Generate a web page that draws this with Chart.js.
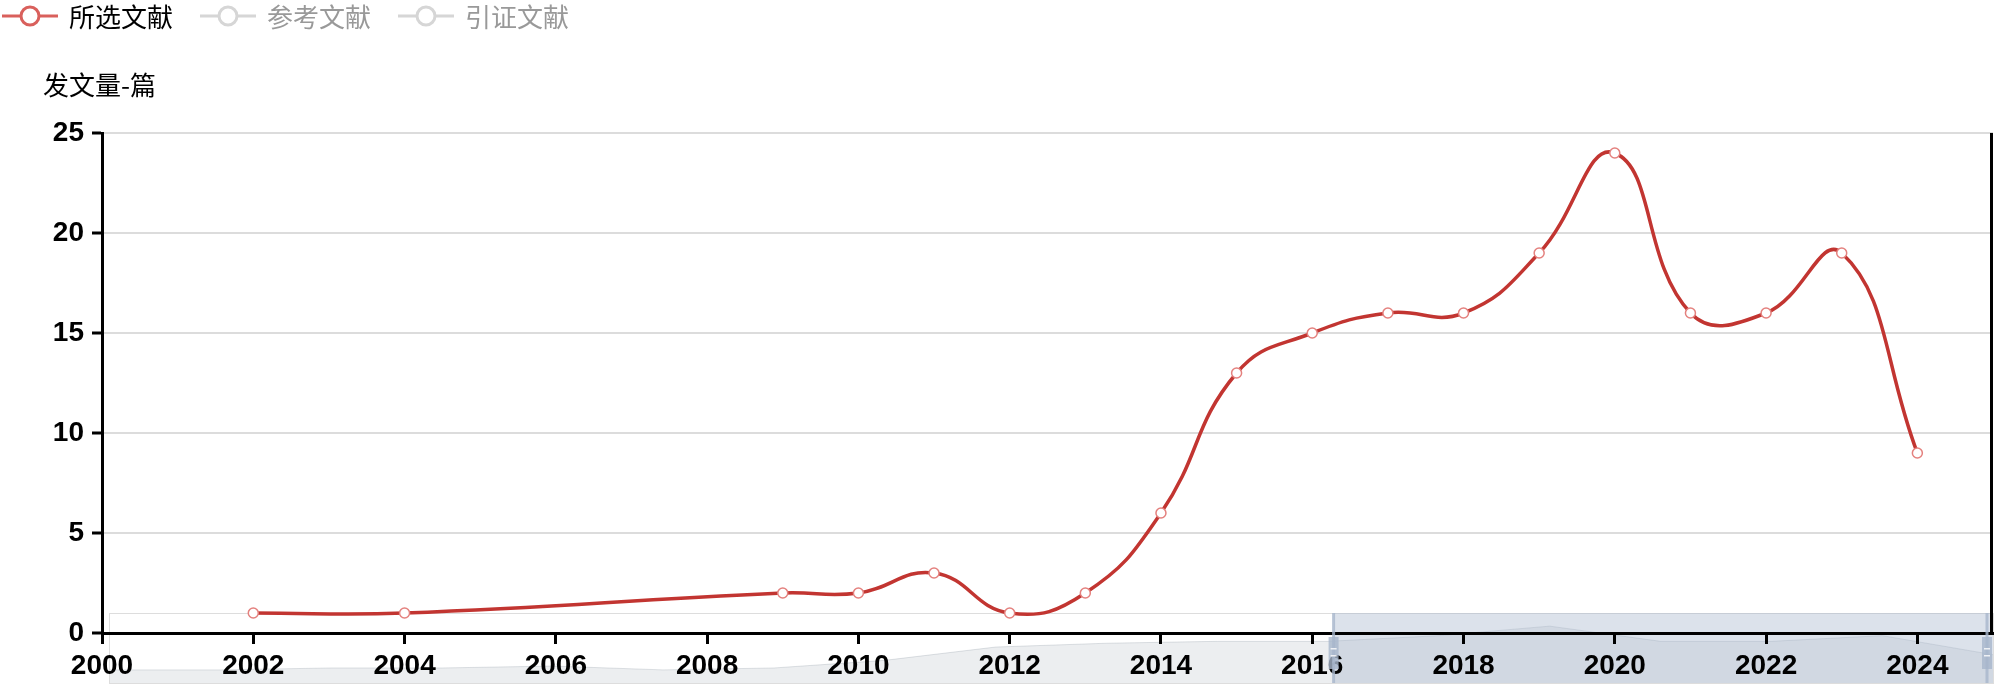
<!DOCTYPE html>
<html>
<head>
<meta charset="utf-8">
<title>发文量</title>
<script src="https://cdn.jsdelivr.net/npm/chart.js@4.4.1/dist/chart.umd.min.js"></script>
<style>
  html, body { margin: 0; padding: 0; background: #fff; overflow: hidden; }
  #box { width: 2000px; height: 686px; position: relative; }
</style>
</head>
<body>
<div id="box"><canvas id="trendChart"></canvas></div>
<script>
// 发文量 per year (所选文献)
const years = [2002, 2004, 2009, 2010, 2011, 2012, 2013, 2014, 2015, 2016, 2017, 2018, 2019, 2020, 2021, 2022, 2023, 2024];
const counts = [1, 1, 2, 2, 3, 1, 2, 6, 13, 15, 16, 16, 19, 24, 16, 16, 19, 9];
const legendNames = ['所选文献', '参考文献', '引证文献'];
const legendOn = [true, false, false];
const yAxisName = '发文量-篇';
const zoomRange = [65, 100]; // slider start / end, %

const RED = '#c23531';
const cjkFont = '26px "Noto Sans CJK SC", sans-serif';
const tickFont = { family: '"Liberation Sans", Arial, sans-serif', size: 28, weight: 'bold' };

function sliderBox(a) {
  const sl = a.left + 7, sr = a.right, st = a.bottom - 20, sh = 70;
  return { sl, sr, st, sh, sb: st + sh,
    hs: sl + (sr - sl) * zoomRange[0] / 100,
    he: Math.min(sl + (sr - sl) * zoomRange[1] / 100, sr - 6) };
}

// slider background, data shadow and selected range (under the axes)
const sliderBack = {
  id: 'sliderBack',
  beforeDraw(chart) {
    const ctx = chart.ctx;
    const { sl, sr, st, sh, sb, hs } = sliderBox(chart.chartArea);
    ctx.save();
    const lo = Math.min(...counts), hi = Math.max(...counts), off = (hi - lo) * 0.3;
    const pts = counts.map((v, i) => [
      sl + (sr - sl) * i / (counts.length - 1),
      sb - (v - lo + off) / (hi - lo + 2 * off) * sh
    ]);
    ctx.beginPath();
    ctx.moveTo(sl, sb);
    pts.forEach(p => ctx.lineTo(p[0], p[1]));
    ctx.lineTo(sr, sb);
    ctx.closePath();
    ctx.fillStyle = 'rgba(47,69,84,0.09)';
    ctx.fill();
    ctx.beginPath();
    pts.forEach((p, i) => i ? ctx.lineTo(p[0], p[1]) : ctx.moveTo(p[0], p[1]));
    ctx.strokeStyle = 'rgba(47,69,84,0.15)';
    ctx.lineWidth = 1;
    ctx.stroke();

    ctx.strokeStyle = '#ddd';
    ctx.strokeRect(sl + 0.5, st + 0.5, sr - sl, sh);

    ctx.fillStyle = 'rgba(167,183,204,0.4)';
    ctx.fillRect(hs, st, sr - hs, sh);
    ctx.restore();
  }
};

// legend, axis name, right border and slider handles
const extras = {
  id: 'extras',
  afterDraw(chart) {
    const ctx = chart.ctx;
    const a = chart.chartArea;
    ctx.save();

    ctx.strokeStyle = '#000';
    ctx.lineWidth = 3;
    ctx.beginPath();
    ctx.moveTo(a.right - 1.5, a.top);
    ctx.lineTo(a.right - 1.5, a.bottom);
    ctx.stroke();

    ctx.font = cjkFont;
    ctx.textBaseline = 'middle';
    let x = 2;
    legendNames.forEach((name, i) => {
      ctx.strokeStyle = legendOn[i] ? '#d9605c' : '#d6d6d6';
      ctx.lineWidth = 3;
      ctx.beginPath();
      ctx.moveTo(x, 16);
      ctx.lineTo(x + 56, 16);
      ctx.stroke();
      ctx.fillStyle = '#fff';
      ctx.beginPath();
      ctx.arc(x + 28, 16, 9, 0, Math.PI * 2);
      ctx.fill();
      ctx.stroke();
      ctx.fillStyle = legendOn[i] ? '#000' : '#999';
      ctx.fillText(name, x + 67, 17);
      x += 67 + ctx.measureText(name).width + 27;
    });

    ctx.fillStyle = '#000';
    ctx.fillText(yAxisName, 43, 85);

    const { st, sh, hs, he } = sliderBox(a);
    [hs, he].forEach(hx => {
      ctx.fillStyle = 'rgba(167,183,204,0.8)';
      ctx.fillRect(hx - 1.5, st, 3, sh);
      ctx.fillRect(hx - 5, st + 24, 10, 32);
      ctx.fillStyle = 'rgba(255,255,255,0.8)';
      ctx.fillRect(hx - 3, st + 35, 6, 1.5);
      ctx.fillRect(hx - 3, st + 42, 6, 1.5);
    });

    ctx.restore();
  }
};

new Chart(document.getElementById('trendChart'), {
  type: 'line',
  data: {
    datasets: [{
      label: legendNames[0],
      data: years.map((y, i) => ({ x: y, y: counts[i] })),
      borderColor: RED,
      borderWidth: 3.5,
      tension: 0.45,
      pointRadius: 5,
      pointBorderWidth: 1.5,
      pointBorderColor: '#e4817e',
      pointBackgroundColor: '#fff'
    }]
  },
  options: {
    responsive: true,
    maintainAspectRatio: false,
    animation: false,
    layout: { padding: { top: 133, right: 7, bottom: 0, left: 0 } },
    plugins: { legend: { display: false }, tooltip: { enabled: false } },
    scales: {
      x: {
        type: 'linear',
        min: 2000,
        max: 2025,
        afterFit: s => { s.height = 53; },
        ticks: {
          stepSize: 2, includeBounds: false, autoSkip: false, maxRotation: 0,
          color: '#000', font: tickFont, padding: 5,
          callback: v => String(v)
        },
        grid: { drawOnChartArea: false, tickLength: 11, tickColor: '#000', tickWidth: 3 },
        border: { color: '#000', width: 3 }
      },
      y: {
        min: 0,
        max: 25,
        afterFit: s => { s.width = 102; },
        ticks: { stepSize: 5, color: '#000', font: tickFont, padding: 8 },
        grid: { color: '#dcdcdc', lineWidth: 2, tickLength: 10, tickColor: '#000', tickWidth: 3 },
        border: { color: '#000', width: 3 }
      }
    }
  },
  plugins: [sliderBack, extras]
});
</script>
</body>
</html>
